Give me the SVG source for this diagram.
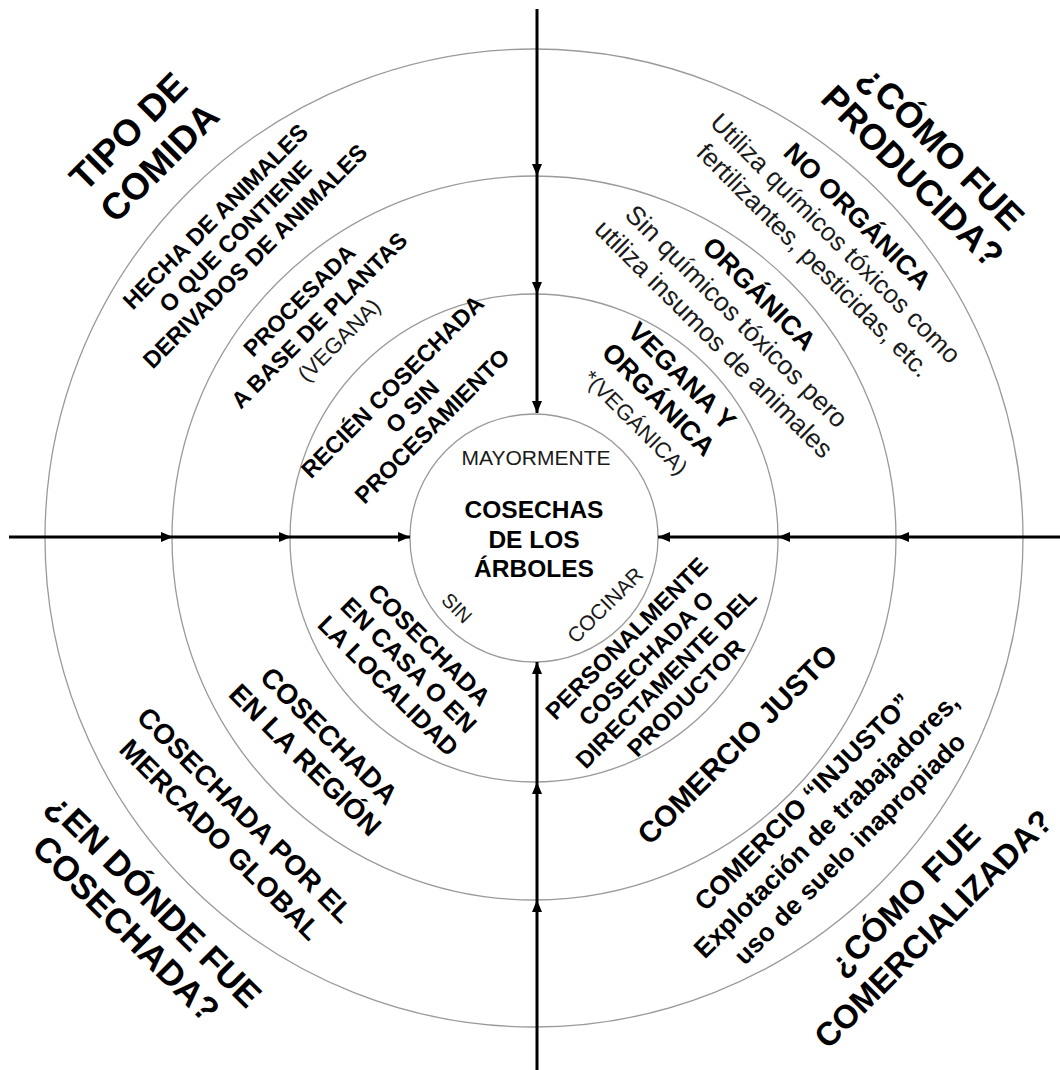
<svg xmlns="http://www.w3.org/2000/svg" width="1060" height="1070" viewBox="0 0 1060 1070">
<style>
text{font-family:"Liberation Sans",Arial,Helvetica,sans-serif;text-anchor:middle;fill:#000}
.b{font-weight:bold}
.r{font-weight:normal;fill:#1a1a1a}
.ring{fill:none;stroke:#9a9a9a;stroke-width:1.3}
.con{stroke:#000;stroke-width:3;fill:none;marker-end:url(#arr)}
</style>
<defs>
<marker id="arr" viewBox="0 0 12 10" refX="12" refY="5" markerWidth="12" markerHeight="10" markerUnits="userSpaceOnUse" orient="auto"><path d="M0,0 L12,5 L0,10 z" fill="#000"/></marker>
</defs>
<rect width="1060" height="1070" fill="#fff"/>
<g id="rings">
<circle class="ring" cx="534" cy="538" r="489"/>
<circle class="ring" cx="534" cy="538" r="362"/>
<circle class="ring" cx="534" cy="538" r="244"/>
<circle class="ring" cx="534" cy="538" r="124"/>
</g>
<g id="connectors">
<line class="con" x1="537" y1="9" x2="537" y2="176"/>
<line class="con" x1="537" y1="176" x2="537" y2="294"/>
<line class="con" x1="537" y1="294" x2="537" y2="413"/>
<line class="con" x1="537" y1="1070" x2="537" y2="900"/>
<line class="con" x1="537" y1="900" x2="537" y2="782"/>
<line class="con" x1="537" y1="782" x2="537" y2="662"/>
<line class="con" x1="9" y1="537" x2="173" y2="537"/>
<line class="con" x1="173" y1="537" x2="291" y2="537"/>
<line class="con" x1="291" y1="537" x2="410" y2="537"/>
<line class="con" x1="1060" y1="537" x2="897" y2="537"/>
<line class="con" x1="897" y1="537" x2="778" y2="537"/>
<line class="con" x1="778" y1="537" x2="658" y2="537"/>
</g>
<g id="center">
<text class="r" x="536" y="465" font-size="21">MAYORMENTE</text>
<text class="b" x="534" y="518" font-size="24.5">COSECHAS</text>
<text class="b" x="534" y="548" font-size="24.5">DE LOS</text>
<text class="b" x="534" y="577" font-size="24.5">ÁRBOLES</text>
<text class="r" font-size="20" transform="translate(457,608) rotate(45)" y="7">SIN</text>
<text class="r" font-size="21" transform="translate(605,605) rotate(-45)" y="7.5">COCINAR</text>
</g>
<g id="tipo-de-comida" transform="translate(143.5,146.5) rotate(-45)">
<text class="b" font-size="37" y="-8.7">TIPO DE</text>
<text class="b" font-size="37" y="35.3">COMIDA</text>
</g>
<g id="hecha-de-animales" transform="translate(235,236) rotate(-45)">
<text class="b" font-size="23.5" y="-19.5">HECHA DE ANIMALES</text>
<text class="b" font-size="23.5" y="8.5">O QUE CONTIENE</text>
<text class="b" font-size="23.5" y="36.5">DERIVADOS DE ANIMALES</text>
</g>
<g id="procesada" transform="translate(319,320) rotate(-45)">
<text class="b" font-size="23" y="-19.7">PROCESADA</text>
<text class="b" font-size="23" y="8.3">A BASE DE PLANTAS</text>
<text class="r" font-size="22" y="35.9">(VEGANA)</text>
</g>
<g id="recien-cosechada" transform="translate(412,406) rotate(-45)">
<text class="b" font-size="23.5" y="-19.5">RECIÉN COSECHADA</text>
<text class="b" font-size="23.5" y="8.5">O SIN</text>
<text class="b" font-size="23.5" y="36.5">PROCESAMIENTO</text>
</g>
<g id="como-fue-producida" transform="translate(927.5,161.5) rotate(45)">
<text class="b" font-size="36" y="-7.5">¿CÓMO FUE</text>
<text class="b" font-size="36" y="33.5">PRODUCIDA?</text>
</g>
<g id="no-organica" transform="translate(836,238) rotate(45)">
<text class="b" font-size="27" y="-21.3">NO ORGÁNICA</text>
<text class="r" font-size="26" y="9.4">Utiliza químicos tóxicos como</text>
<text class="r" font-size="26" y="40.4">fertilizantes, pesticidas, etc.</text>
</g>
<g id="organica" transform="translate(737,316) rotate(45)">
<text class="b" font-size="27" y="-22.3">ORGÁNICA</text>
<text class="r" font-size="26.5" y="9.5">Sin químicos tóxicos pero</text>
<text class="r" font-size="26.5" y="41.5">utiliza insumos de animales</text>
</g>
<g id="vegana-organica" transform="translate(659,399) rotate(45)">
<text class="b" font-size="27" y="-23.3">VEGANA Y</text>
<text class="b" font-size="27" y="9.7">ORGÁNICA</text>
<text class="r" font-size="22" y="40.9">*(VEGÁNICA)</text>
</g>
<g id="cosechada-casa" transform="translate(409,665) rotate(45)">
<text class="b" font-size="25" y="-20">COSECHADA</text>
<text class="b" font-size="25" y="9">EN CASA O EN</text>
<text class="b" font-size="25" y="38">LA LOCALIDAD</text>
</g>
<g id="cosechada-region" transform="translate(317.5,747.5) rotate(45)">
<text class="b" font-size="28" y="-6.9">COSECHADA</text>
<text class="b" font-size="28" y="27.1">EN LA REGIÓN</text>
</g>
<g id="cosechada-global" transform="translate(233,827) rotate(45)">
<text class="b" font-size="28" y="-7.4">COSECHADA POR EL</text>
<text class="b" font-size="28" y="27.6">MERCADO GLOBAL</text>
</g>
<g id="en-donde-fue" transform="translate(140.5,914) rotate(45)">
<text class="b" font-size="35" y="-7.4">¿EN DÓNDE FUE</text>
<text class="b" font-size="35" y="32.6">COSECHADA?</text>
</g>
<g id="personalmente" transform="translate(656,668) rotate(-45)">
<text class="b" font-size="24" y="-33.4">PERSONALMENTE</text>
<text class="b" font-size="24" y="-5.4">COSECHADA O</text>
<text class="b" font-size="24" y="22.6">DIRECTAMENTE DEL</text>
<text class="b" font-size="24" y="50.6">PRODUCTOR</text>
</g>
<g id="comercio-justo" transform="translate(737,744) rotate(-45)">
<text class="b" font-size="29.5" y="10.6">COMERCIO JUSTO</text>
</g>
<g id="comercio-injusto" transform="translate(826,825) rotate(-45)">
<text class="b" font-size="26.5" y="-23.5">COMERCIO “INJUSTO”</text>
<text class="b" font-size="26.5" y="9.5">Explotación de trabajadores,</text>
<text class="b" font-size="26" y="42.4">uso de suelo inapropiado</text>
</g>
<g id="como-fue-comercializada" transform="translate(918.5,914) rotate(-45)">
<text class="b" font-size="33" y="-8.6">¿CÓMO FUE</text>
<text class="b" font-size="33" y="32.4">COMERCIALIZADA?</text>
</g>
</svg>
